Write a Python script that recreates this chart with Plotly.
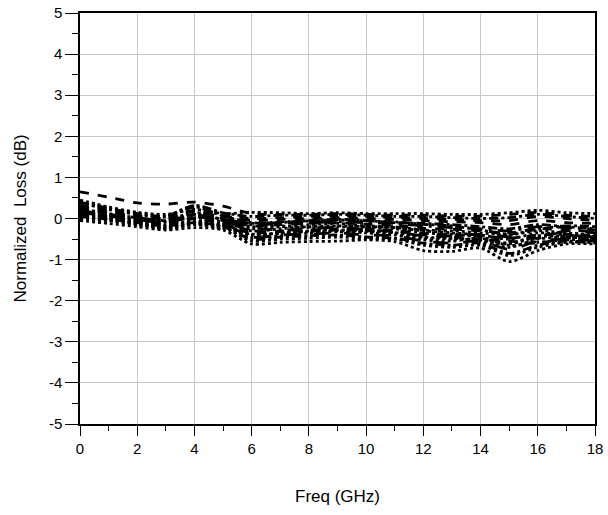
import plotly.graph_objects as go

freq = [0, 1, 2, 3, 4, 5, 6, 7, 8, 9, 10, 11, 12, 13, 14, 15, 16, 17, 18]

s01 = [0.65, 0.52, 0.38, 0.35, 0.40, 0.30, 0.12, 0.10, 0.10, 0.12, 0.10, 0.08, 0.08, 0.06, 0.06, 0.10, 0.15, 0.08, 0.05]
s02 = [-0.05, -0.12, -0.20, -0.28, -0.22, -0.28, -0.62, -0.58, -0.56, -0.55, -0.52, -0.56, -0.78, -0.80, -0.72, -1.05, -0.78, -0.62, -0.62]
s03 = [0.45, 0.28, 0.15, 0.10, 0.22, 0.12, 0.15, 0.14, 0.12, 0.14, 0.12, 0.12, 0.12, 0.10, 0.10, 0.14, 0.20, 0.14, 0.12]
s04 = [0.38, 0.22, 0.10, 0.04, 0.28, 0.06, -0.10, -0.10, -0.05, -0.02, -0.05, -0.10, -0.12, -0.15, -0.20, -0.25, -0.15, -0.20, -0.25]
s05 = [0.25, 0.12, 0.02, -0.05, 0.15, -0.05, -0.30, -0.25, -0.20, -0.18, -0.20, -0.22, -0.30, -0.35, -0.40, -0.50, -0.35, -0.40, -0.45]
s06 = [0.20, 0.08, 0.00, -0.10, 0.05, -0.10, -0.45, -0.40, -0.38, -0.35, -0.40, -0.42, -0.55, -0.60, -0.55, -0.75, -0.55, -0.50, -0.55]
s07 = [0.15, 0.05, -0.05, -0.12, 0.00, -0.15, -0.35, -0.30, -0.28, -0.25, -0.25, -0.30, -0.40, -0.45, -0.50, -0.55, -0.60, -0.48, -0.50]
s08 = [0.10, 0.02, -0.08, -0.15, -0.05, -0.12, -0.25, -0.20, -0.15, -0.12, -0.18, -0.20, -0.28, -0.30, -0.35, -0.40, -0.30, -0.35, -0.40]
s09 = [0.05, -0.02, -0.10, -0.18, -0.10, -0.20, -0.50, -0.45, -0.42, -0.40, -0.45, -0.48, -0.60, -0.65, -0.60, -0.85, -0.65, -0.55, -0.60]
s10 = [0.00, -0.05, -0.15, -0.22, -0.15, -0.22, -0.55, -0.50, -0.48, -0.45, -0.48, -0.50, -0.65, -0.70, -0.65, -0.90, -0.70, -0.58, -0.58]
s11 = [0.22, 0.15, 0.05, 0.00, 0.10, 0.05, -0.05, -0.02, 0.00, 0.02, 0.00, -0.02, -0.05, -0.08, -0.10, -0.15, -0.05, -0.10, -0.12]
s12 = [0.18, 0.10, 0.02, -0.05, 0.08, 0.00, -0.15, -0.12, -0.10, -0.08, -0.10, -0.12, -0.18, -0.22, -0.25, -0.30, -0.20, -0.22, -0.28]
s13 = [0.12, 0.05, -0.05, -0.08, 0.02, -0.08, -0.20, -0.18, -0.22, -0.20, -0.22, -0.25, -0.35, -0.38, -0.45, -0.60, -0.42, -0.45, -0.50]
s14 = [0.28, 0.15, 0.06, 0.00, 0.20, 0.08, 0.00, 0.02, 0.05, 0.06, 0.05, 0.02, 0.00, -0.02, -0.05, -0.05, 0.05, 0.00, -0.05]
s15 = [0.08, 0.00, -0.12, -0.20, -0.08, -0.18, -0.40, -0.35, -0.32, -0.30, -0.32, -0.35, -0.48, -0.50, -0.55, -0.70, -0.50, -0.45, -0.48]
s16 = [0.40, 0.25, 0.12, 0.06, 0.32, 0.14, 0.05, 0.08, 0.08, 0.10, 0.08, 0.05, 0.05, 0.02, 0.00, 0.02, 0.10, 0.05, 0.00]
s17 = [0.14, 0.06, -0.03, -0.10, 0.05, -0.05, -0.22, -0.28, -0.25, -0.22, -0.28, -0.32, -0.42, -0.42, -0.38, -0.45, -0.48, -0.30, -0.35]
s18 = [0.02, -0.04, -0.12, -0.25, -0.12, -0.18, -0.45, -0.42, -0.35, -0.32, -0.35, -0.40, -0.52, -0.55, -0.48, -0.65, -0.58, -0.52, -0.52]
s19 = [0.32, 0.18, 0.06, -0.02, 0.18, -0.02, -0.18, -0.15, -0.12, -0.10, -0.14, -0.16, -0.24, -0.26, -0.30, -0.35, -0.25, -0.28, -0.32]
s20 = [0.04, -0.03, -0.14, -0.24, -0.14, -0.24, -0.38, -0.36, -0.30, -0.28, -0.30, -0.34, -0.45, -0.48, -0.52, -0.62, -0.45, -0.42, -0.44]
s21 = [0.16, 0.07, -0.02, -0.08, 0.10, -0.02, -0.12, -0.08, -0.06, -0.04, -0.06, -0.08, -0.14, -0.18, -0.28, -0.38, -0.26, -0.18, -0.20]
s22 = [0.10, 0.03, -0.06, -0.14, 0.00, -0.10, -0.30, -0.32, -0.30, -0.28, -0.30, -0.30, -0.36, -0.40, -0.42, -0.48, -0.40, -0.38, -0.42]

series = [s01, s02, s03, s04, s05, s06, s07, s08, s09, s10, s11,
          s12, s13, s14, s15, s16, s17, s18, s19, s20, s21, s22]
dashes = ["dash", "dot", "dot", "dashdot", "dot", "longdash", "dash", "dot", "dashdot",
          "dot", "dash", "longdashdot", "dot", "dash", "dot", "dashdot", "longdash", "dot",
          "dash", "dot", "dashdot", "dash"]

x_ticks = [0, 2, 4, 6, 8, 10, 12, 14, 16, 18]
x_tick_text = ["0", "2", "4", "6", "8", "10", "12", "14", "16", "18"]
y_ticks = [-5, -4, -3, -2, -1, 0, 1, 2, 3, 4, 5]
y_tick_text = ["-5", "-4", "-3", "-2", "-1", "0", "1", "2", "3", "4", "5"]

fig = go.Figure()
for vals, d in zip(series, dashes):
    fig.add_trace(go.Scatter(x=freq, y=vals, mode="lines",
                             line=dict(color="black", width=2.8, dash=d, shape="spline", smoothing=0.8),
                             showlegend=False, hoverinfo="skip"))

fam = "Liberation Sans, Arial, sans-serif"
font = dict(family=fam, size=15, color="black")

fig.update_layout(
    width=608, height=515,
    margin=dict(l=80, r=13, t=13, b=91),
    paper_bgcolor="white", plot_bgcolor="white",
    font=font,
)
fig.update_xaxes(
    range=[0, 18], tickvals=x_ticks, ticktext=x_tick_text, automargin=False,
    ticklabeloverflow="allow",
    showline=True, linecolor="black", linewidth=1.5, mirror=True,
    showgrid=True, gridcolor="#c8c8c8", gridwidth=1,
    ticks="outside", ticklen=10, tickcolor="black", tickwidth=1,
    minor=dict(ticks="outside", ticklen=5, dtick=1, tick0=0, tickcolor="black", showgrid=False),
    zeroline=False, tickfont=font,
)
fig.update_yaxes(
    range=[-5, 5], tickvals=y_ticks, ticktext=y_tick_text, automargin=False,
    ticklabeloverflow="allow",
    showline=True, linecolor="black", linewidth=1.5, mirror=True,
    showgrid=True, gridcolor="#c8c8c8", gridwidth=1,
    ticks="outside", ticklen=13, tickcolor="black", tickwidth=1,
    minor=dict(ticks="outside", ticklen=6, dtick=0.5, tick0=0, tickcolor="black", showgrid=False),
    zeroline=False, tickfont=font,
)
fig.add_annotation(text="Freq (GHz)", xref="paper", yref="paper", x=0.5, y=-0.1776,
                   xanchor="center", yanchor="middle", showarrow=False,
                   font=dict(family=fam, size=17, color="black"))
fig.add_annotation(text="Normalized  Loss (dB)", xref="paper", yref="paper", x=-0.1165, y=0.5,
                   xanchor="center", yanchor="middle", showarrow=False, textangle=-90,
                   font=dict(family=fam, size=17, color="black"))

# remove the page's default body margin and scrollbars so the 608x515 figure fills the window
page_js = ("document.body.style.margin='0px';"
           "document.body.style.overflow='hidden';"
           "document.documentElement.style.overflow='hidden';")
fig.write_html("out.html", post_script=page_js, config={"displayModeBar": False})
